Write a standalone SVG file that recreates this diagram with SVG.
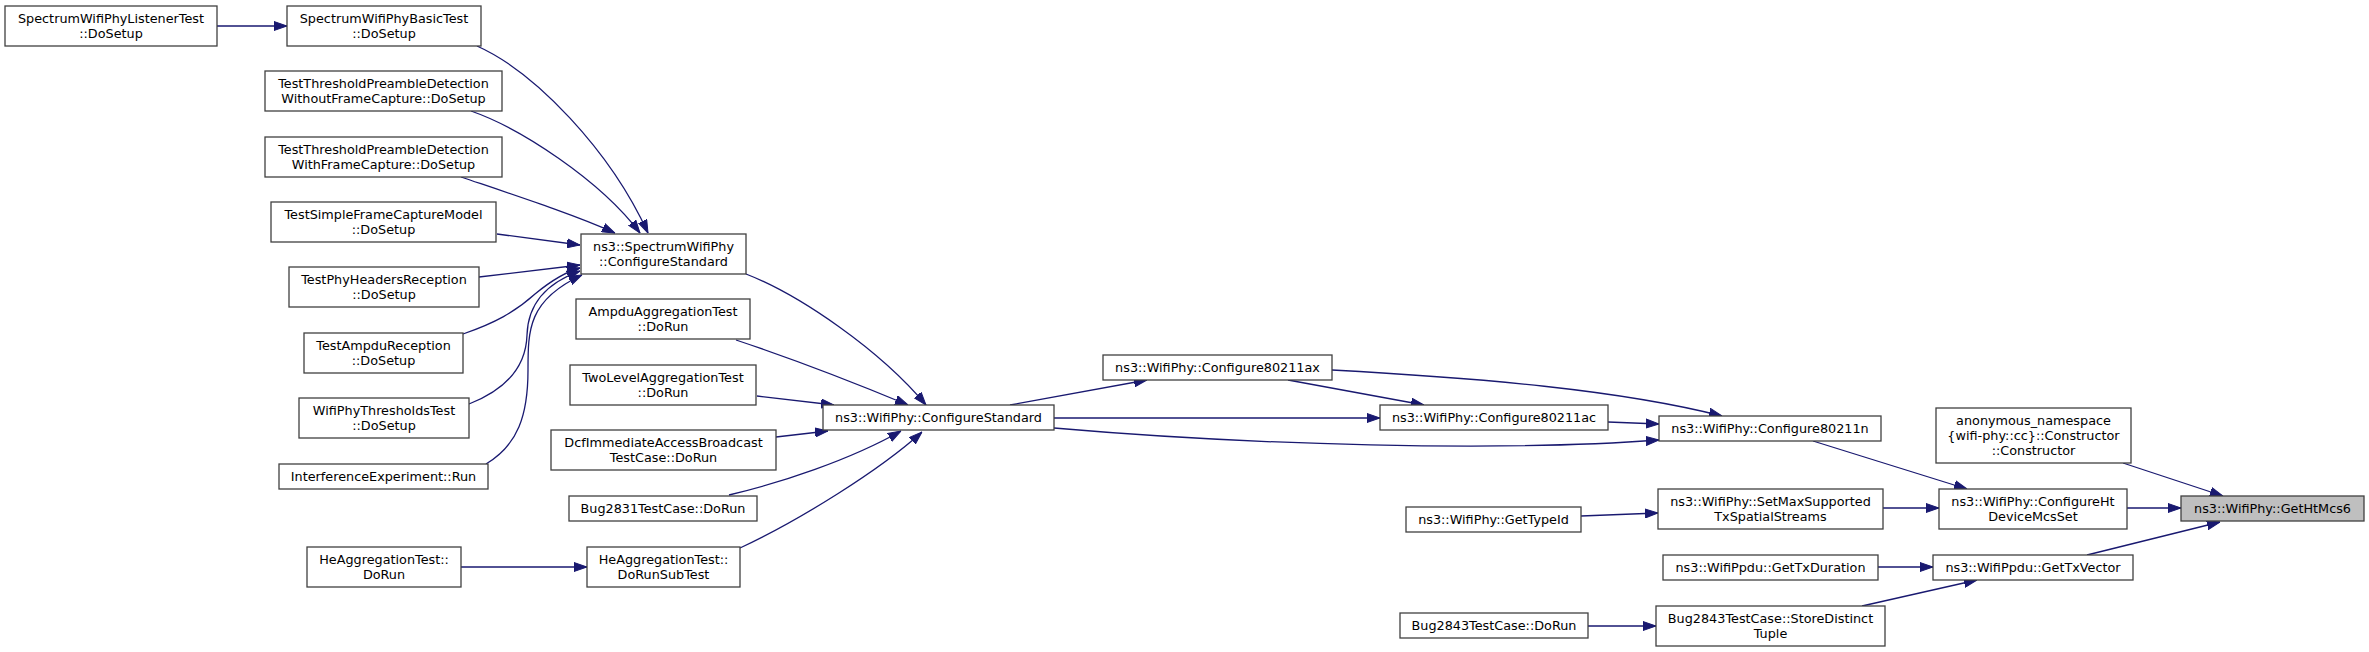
<svg xmlns="http://www.w3.org/2000/svg" width="2369" height="652" viewBox="0 0 2369 652">
<style>
.node rect{fill:#ffffff;stroke:#404040;stroke-width:1.3}
.node.hl rect{fill:#bfbfbf}
.node text{font-family:"DejaVu Sans","Liberation Sans",sans-serif;font-size:12.8px;text-anchor:middle;fill:#000000}
.edges path{fill:none;stroke:#191970;stroke-width:1.3;marker-end:url(#arr)}
</style>
<defs>
<marker id="arr" markerUnits="userSpaceOnUse" viewBox="0 0 13 10" markerWidth="13" markerHeight="10" refX="13" refY="5" orient="auto">
<path d="M0,0.5 L13,5 L0,9.5 z" fill="#191970" stroke="#191970" stroke-width="1"/>
</marker>
</defs>
<rect x="0" y="0" width="2369" height="652" fill="#ffffff"/>
<g class="edges">
<path d="M217,26 L287,26"/>
<path d="M477,46 C535,72 610,150 648,233"/>
<path d="M471,111 C520,128 600,180 640,233"/>
<path d="M461,177 C520,197 575,215 615,233"/>
<path d="M497,234 L580,245"/>
<path d="M479,277 L580,265"/>
<path d="M463,334 C495,323 515,312 535,294 C552,280 565,272 580,268"/>
<path d="M469,404 C505,390 526,368 527,335 C528,300 552,281 580,271"/>
<path d="M486,464 C518,445 528,415 528,370 C528,330 528,300 582,275"/>
<path d="M461,567 L587,567"/>
<path d="M746,274 C800,295 880,350 926,405"/>
<path d="M736,340 C790,358 860,385 908,405"/>
<path d="M757,396 L834,405"/>
<path d="M776,437 L828,431"/>
<path d="M729,495 C780,483 850,460 901,431"/>
<path d="M740,548 C800,520 880,470 922,432"/>
<path d="M1010,405 L1147,380"/>
<path d="M1054,418 L1380,418"/>
<path d="M1054,428 C1250,445 1500,452 1659,440"/>
<path d="M1288,380 L1424,405"/>
<path d="M1332,370 C1480,378 1620,390 1722,416"/>
<path d="M1608,422 L1659,424"/>
<path d="M1813,441 L1967,489"/>
<path d="M1883,508 L1939,508"/>
<path d="M1581,516 L1658,513"/>
<path d="M2123,463 L2223,496"/>
<path d="M2127,508 L2181,508"/>
<path d="M2087,555 L2220,522"/>
<path d="M1878,567 L1933,567"/>
<path d="M1862,606 L1977,580"/>
<path d="M1588,626 L1656,626"/>
</g>
<g id="n_listener" class="node"><rect x="5" y="6" width="212" height="40"/><text x="111" y="23">SpectrumWifiPhyListenerTest</text><text x="111" y="38">::DoSetup</text></g>
<g id="n_basic" class="node"><rect x="287" y="6" width="194" height="40"/><text x="384" y="23">SpectrumWifiPhyBasicTest</text><text x="384" y="38">::DoSetup</text></g>
<g id="n_withoutfc" class="node"><rect x="265" y="71" width="237" height="40"/><text x="383.5" y="88">TestThresholdPreambleDetection</text><text x="383.5" y="103">WithoutFrameCapture::DoSetup</text></g>
<g id="n_withfc" class="node"><rect x="265" y="137" width="237" height="40"/><text x="383.5" y="154">TestThresholdPreambleDetection</text><text x="383.5" y="169">WithFrameCapture::DoSetup</text></g>
<g id="n_simplefc" class="node"><rect x="271" y="202" width="225" height="40"/><text x="383.5" y="219">TestSimpleFrameCaptureModel</text><text x="383.5" y="234">::DoSetup</text></g>
<g id="n_phyheaders" class="node"><rect x="289" y="267" width="190" height="40"/><text x="384" y="284">TestPhyHeadersReception</text><text x="384" y="299">::DoSetup</text></g>
<g id="n_ampdurx" class="node"><rect x="304" y="333" width="159" height="40"/><text x="383.5" y="350">TestAmpduReception</text><text x="383.5" y="365">::DoSetup</text></g>
<g id="n_thresholds" class="node"><rect x="299" y="398" width="170" height="40"/><text x="384" y="415">WifiPhyThresholdsTest</text><text x="384" y="430">::DoSetup</text></g>
<g id="n_interference" class="node"><rect x="279" y="464" width="209" height="25"/><text x="383.5" y="481">InterferenceExperiment::Run</text></g>
<g id="n_heagg_dorun" class="node"><rect x="307" y="547" width="154" height="40"/><text x="384" y="564">HeAggregationTest::</text><text x="384" y="579">DoRun</text></g>
<g id="n_spectrum_cs" class="node"><rect x="581" y="234" width="165" height="40"/><text x="663.5" y="251">ns3::SpectrumWifiPhy</text><text x="663.5" y="266">::ConfigureStandard</text></g>
<g id="n_ampduagg" class="node"><rect x="576" y="299" width="174" height="40"/><text x="663" y="316">AmpduAggregationTest</text><text x="663" y="331">::DoRun</text></g>
<g id="n_twolevel" class="node"><rect x="570" y="365" width="186" height="40"/><text x="663" y="382">TwoLevelAggregationTest</text><text x="663" y="397">::DoRun</text></g>
<g id="n_dcf" class="node"><rect x="551" y="430" width="225" height="40"/><text x="663.5" y="447">DcfImmediateAccessBroadcast</text><text x="663.5" y="462">TestCase::DoRun</text></g>
<g id="n_bug2831" class="node"><rect x="569" y="496" width="188" height="25"/><text x="663" y="513">Bug2831TestCase::DoRun</text></g>
<g id="n_heagg_sub" class="node"><rect x="587" y="547" width="153" height="40"/><text x="663.5" y="564">HeAggregationTest::</text><text x="663.5" y="579">DoRunSubTest</text></g>
<g id="n_wifi_cs" class="node"><rect x="823" y="405" width="231" height="25"/><text x="938.5" y="422">ns3::WifiPhy::ConfigureStandard</text></g>
<g id="n_80211ax" class="node"><rect x="1103" y="355" width="229" height="25"/><text x="1217.5" y="372">ns3::WifiPhy::Configure80211ax</text></g>
<g id="n_80211ac" class="node"><rect x="1380" y="405" width="228" height="25"/><text x="1494" y="422">ns3::WifiPhy::Configure80211ac</text></g>
<g id="n_gettypeid" class="node"><rect x="1406" y="507" width="175" height="25"/><text x="1493.5" y="524">ns3::WifiPhy::GetTypeId</text></g>
<g id="n_bug2843" class="node"><rect x="1400" y="613" width="188" height="25"/><text x="1494" y="630">Bug2843TestCase::DoRun</text></g>
<g id="n_80211n" class="node"><rect x="1659" y="416" width="222" height="25"/><text x="1770" y="433">ns3::WifiPhy::Configure80211n</text></g>
<g id="n_setmax" class="node"><rect x="1658" y="489" width="225" height="40"/><text x="1770.5" y="506">ns3::WifiPhy::SetMaxSupported</text><text x="1770.5" y="521">TxSpatialStreams</text></g>
<g id="n_gettxduration" class="node"><rect x="1663" y="555" width="215" height="25"/><text x="1770.5" y="572">ns3::WifiPpdu::GetTxDuration</text></g>
<g id="n_storedistinct" class="node"><rect x="1656" y="606" width="229" height="40"/><text x="1770.5" y="623">Bug2843TestCase::StoreDistinct</text><text x="1770.5" y="638">Tuple</text></g>
<g id="n_anon" class="node"><rect x="1936" y="408" width="195" height="55"/><text x="2033.5" y="425">anonymous_namespace</text><text x="2033.5" y="440">{wifi-phy::cc}::Constructor</text><text x="2033.5" y="455">::Constructor</text></g>
<g id="n_configureht" class="node"><rect x="1939" y="489" width="188" height="40"/><text x="2033" y="506">ns3::WifiPhy::ConfigureHt</text><text x="2033" y="521">DeviceMcsSet</text></g>
<g id="n_gettxvector" class="node"><rect x="1933" y="555" width="200" height="25"/><text x="2033" y="572">ns3::WifiPpdu::GetTxVector</text></g>
<g id="n_gethtmcs6" class="node hl"><rect x="2181" y="496" width="183" height="25"/><text x="2272.5" y="513">ns3::WifiPhy::GetHtMcs6</text></g>
</svg>
